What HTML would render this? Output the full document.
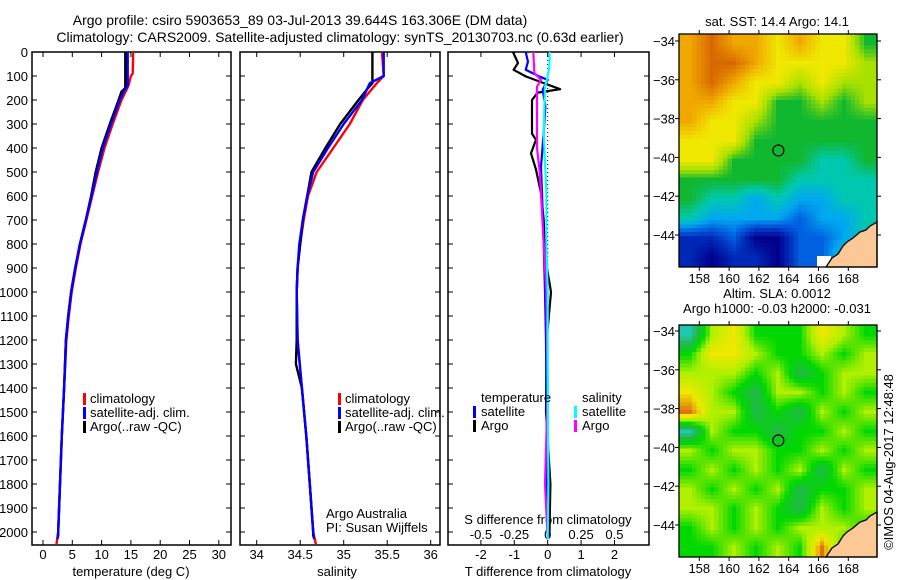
<!DOCTYPE html>
<html><head><meta charset="utf-8">
<style>
html,body{margin:0;padding:0;background:#fff;}
svg{display:block;font-family:"Liberation Sans",sans-serif;}
text{font-size:13px;fill:#000;}
</style></head>
<body>
<svg id="fig" width="900" height="580" viewBox="0 0 900 580" xmlns="http://www.w3.org/2000/svg">
<defs>
<clipPath id="clipTop"><rect x="679" y="34" width="198" height="233"/></clipPath>
<clipPath id="clipBot"><rect x="679" y="325" width="198" height="232"/></clipPath>
</defs>
<text x="300" y="25" text-anchor="middle" style="font-size:14px">Argo profile: csiro 5903653_89 03-Jul-2013 39.644S 163.306E (DM data)</text>
<text x="340" y="42" text-anchor="middle" style="font-size:14px">Climatology: CARS2009. Satellite-adjusted climatology: synTS_20130703.nc (0.63d earlier)</text>
<g id="layer"></g>
</svg>
<script>
// ---------- data ----------
var depthTicks = [0,100,200,300,400,500,600,700,800,900,1000,1100,1200,1300,1400,1500,1600,1700,1800,1900,2000];
var tempTicks = [0,5,10,15,20,25,30];
var salTicks = [34,34.5,35,35.5,36];
var salTickLabels = ["34","34.5","35","35.5","36"];
var tdiffTicks = [-2,-1,0,1,2];
var sdiffTicks = [-0.5,-0.25,0,0.25,0.5];
var sdiffTickLabels = ["-0.5","-0.25","0","0.25","0.5"];

var tClimDepth = [0,90,100,130,150,200,300,400,500,600,700,800,900,1000,1100,1200,1300,1400,1600,1800,2000,2050];
var tClim      = [15.4,15.3,15.0,14.7,14.4,13.4,11.9,10.5,9.4,8.4,7.4,6.4,5.6,4.9,4.4,4.0,3.8,3.6,3.2,2.9,2.6,2.3];
var tSatDepth  = [0,140,160,200,300,400,500,600,700,800,900,1000,1100,1200,1300,1400,1600,1800,2000,2030];
var tSat       = [14.45,14.45,13.9,13.1,11.6,10.2,9.2,8.3,7.3,6.3,5.5,4.8,4.3,3.9,3.75,3.6,3.2,2.9,2.6,2.5];
var tArgoDepth = [0,150,165,200,300,400,500,600,700,800,900,1000,1100,1200,1300,1400,1600,1800,2000,2020];
var tArgo      = [14.05,14.05,13.4,12.9,11.4,10.0,9.0,8.2,7.3,6.3,5.5,4.8,4.3,3.9,3.75,3.6,3.2,2.9,2.6,2.6];

var sClimDepth = [0,100,130,200,300,400,500,600,700,800,900,1000,1200,1400,1600,1800,2000,2050];
var sClim      = [35.44,35.46,35.38,35.22,35.07,34.88,34.69,34.59,34.54,34.5,34.47,34.46,34.47,34.52,34.57,34.61,34.65,34.68];
var sSatDepth  = [0,100,130,200,300,400,500,600,700,800,900,1000,1200,1400,1600,1800,2000,2030];
var sSat       = [35.46,35.46,35.3,35.21,35.0,34.82,34.65,34.58,34.53,34.49,34.47,34.46,34.47,34.52,34.57,34.61,34.65,34.66];
var sArgoDepth = [0,130,150,200,300,400,500,600,700,800,900,1000,1200,1300,1400,1600,1800,2000,2020];
var sArgo      = [35.33,35.33,35.28,35.17,34.96,34.79,34.63,34.58,34.53,34.5,34.47,34.46,34.46,34.45,34.52,34.57,34.61,34.65,34.65];

var dTSatDepth  = [0,40,74,102,116,158,227,338,477,588,800,1000,1200,1500,1800,2030];
var dTSat       = [-0.66,-0.59,-0.66,-0.25,0.0,-0.15,-0.07,-0.12,-0.2,-0.17,-0.12,-0.08,-0.05,-0.03,-0.02,0.0];
var dTArgoDepth = [0,46,74,102,123,155,169,200,340,366,422,490,588,700,850,1000,1200,1500,1800,2020];
var dTArgo      = [-1.04,-0.89,-1.02,-0.65,-0.25,0.37,-0.3,-0.47,-0.47,-0.35,-0.5,-0.35,-0.2,-0.12,-0.08,0.1,-0.03,-0.05,0.08,0.05];
var dSSatDepth  = [0,60,102,144,338,588,800,1000,1400,1800,2030];
var dSSat       = [0.015,0.012,0.0,-0.02,-0.03,-0.01,-0.01,0.0,0.0,0.005,0.0];
var dSArgoDepth = [0,88,116,144,250,400,500,588,800,1000,1400,1600,1800,2030];
var dSArgo      = [-0.108,-0.1,-0.05,-0.08,-0.08,-0.08,-0.06,-0.05,-0.03,-0.01,0.0,-0.01,-0.02,0.0];

var lonTicks = [158,160,162,164,166,168];
var latTicks = [-34,-36,-38,-40,-42,-44];
var argoLon = 163.306, argoLat = -39.644;
var sstColors = ["#00008c","#0028b8","#0060e0","#00a8f0","#00c8b0","#10b830","#a8e000","#f0e800","#f0a800","#d86800"];
var slaColors = ["#00008c","#0028b8","#0060e0","#00a8f0","#20c8b0","#20b848","#00d800","#b0f000","#f0e800","#e07010"];
var sstGrid = [
 [8,9,8,8,7,8,7,7,5],
 [8,9,9,8,7,7,7,7,6],
 [8,9,8,7,7,6,7,6,6],
 [8,8,7,7,5,5,6,5,6],
 [8,7,7,6,5,5,5,5,5],
 [7,7,7,5,5,5,5,5,5],
 [7,7,5,5,5,5,4,4,5],
 [5,5,5,5,5,4,4,4,4],
 [5,4,4,3,4,3,3,4,4],
 [4,3,3,3,3,2,3,3,4],
 [1,1,2,0,0,2,2,3,4],
 [1,0,1,1,0,2,2,4,4]];
var slaGrid = [
 [4,7,8,6,6,6,8,7,6],
 [6,8,8,7,6,6,7,6,7],
 [7,7,7,6,7,5,6,7,7],
 [8,7,6,5,7,7,6,7,6],
 [9,7,7,5,6,5,7,6,7],
 [4,7,6,6,5,6,6,7,6],
 [7,6,7,7,6,6,7,6,7],
 [6,7,6,7,6,7,5,7,6],
 [7,6,7,6,7,5,6,6,7],
 [7,7,6,7,6,5,7,6,7],
 [6,7,6,7,6,7,7,7,6],
 [6,6,7,6,7,6,9,6,6]];

// ---------- helpers ----------
var NS = "http://www.w3.org/2000/svg";
var layer = document.getElementById('layer');
function mk(tag, attrs, parent){ var e=document.createElementNS(NS,tag); for(var k in attrs) e.setAttribute(k,attrs[k]); (parent||layer).appendChild(e); return e; }
function txt(x,y,s,anchor,parent){ var t=mk('text',{x:x,y:y,'text-anchor':anchor||'start'},parent); t.textContent=s; return t; }

var yTop=52, yPx=0.24, plotTop=52, plotBot=545;
function yD(d){ return yTop + d*yPx; }

var panels = [
 {name:'temperature', x0:32, x1:231, sx:function(v){return 43+v*5.86;}},
 {name:'salinity', x0:240, x1:440, sx:function(v){return 256.7+(v-34)*87;}},
 {name:'difference', x0:448, x1:649, sx:function(v){return 547.7+v*33.4;}, sx2:function(v){return 547.7+v*133.5;}}
];

function frame(p){
  var g = mk('g',{});
  
  
  var r = mk('rect',{x:p.x0,y:plotTop,width:p.x1-p.x0,height:plotBot-plotTop,fill:'none',stroke:'#000','stroke-width':1.5},g);
  
  
  depthTicks.forEach(function(d){
    mk('line',{x1:p.x0,x2:p.x0+5,y1:yD(d),y2:yD(d),stroke:'#000'},g);
    mk('line',{x1:p.x1,x2:p.x1-5,y1:yD(d),y2:yD(d),stroke:'#000'},g);
  });
  return g;
}
function line(xs, ds, sx, color, name, w){
  var pts = xs.map(function(v,i){ return sx(v).toFixed(1)+','+yD(ds[i]).toFixed(1); }).join(' ');
  var l = mk('polyline',{points:pts,fill:'none',stroke:color,'stroke-width':w||2.2,'stroke-linejoin':'round'});
  
  
  return l;
}

// panel 1
var g1 = frame(panels[0]);
depthTicks.forEach(function(d){
  var t = txt(28, yD(d)+5, String(d), 'end');
  
  
});
tempTicks.forEach(function(v){
  var x=panels[0].sx(v);
  mk('line',{x1:x,x2:x,y1:plotBot,y2:plotBot-5,stroke:'#000'},g1);
  mk('line',{x1:x,x2:x,y1:plotTop,y2:plotTop+5,stroke:'#000'},g1);
  var t = txt(x, 559, String(v), 'middle');
  
  
});
var xt1 = txt(131, 576, 'temperature (deg C)', 'middle');


line(tClim, tClimDepth, panels[0].sx, '#ff0000', 'temperature-climatology-line', 2.4);
line(tArgo, tArgoDepth, panels[0].sx, '#000000', 'temperature-argo-line', 2.4);
line(tSat, tSatDepth, panels[0].sx, '#0000ff', 'temperature-satellite-line', 2.4);

// panel 2
var g2 = frame(panels[1]);
salTicks.forEach(function(v,i){
  var x=panels[1].sx(v);
  mk('line',{x1:x,x2:x,y1:plotBot,y2:plotBot-5,stroke:'#000'},g2);
  mk('line',{x1:x,x2:x,y1:plotTop,y2:plotTop+5,stroke:'#000'},g2);
  var t = txt(x, 559, salTickLabels[i], 'middle');
  
  
});
var xt2 = txt(337, 576, 'salinity', 'middle');


line(sClim, sClimDepth, panels[1].sx, '#ff0000', 'salinity-climatology-line', 2.4);
line(sArgo, sArgoDepth, panels[1].sx, '#000000', 'salinity-argo-line', 2.4);
line(sSat, sSatDepth, panels[1].sx, '#0000ff', 'salinity-satellite-line', 2.4);
var aa = txt(326, 518, 'Argo Australia');


var pi = txt(326, 532, 'PI: Susan Wijffels');



// legends panels 1,2
[[83,'temperature'],[338,'salinity']].forEach(function(L){
  var items=[['#ff0000','climatology'],['#0000ff','satellite-adj. clim.'],['#000000','Argo(..raw -QC)']];
  items.forEach(function(it,i){
    var y=398+i*14;
    var m = mk('rect',{x:L[0],y:y-5,width:3,height:12,fill:it[0]});
    
    
    var t = txt(L[0]+7, y+5, it[1]);
    
    
  });
});

// panel 3
var g3 = frame(panels[2]);
tdiffTicks.forEach(function(v){
  var x=panels[2].sx(v);
  mk('line',{x1:x,x2:x,y1:plotBot,y2:plotBot-5,stroke:'#000'},g3);
  var t = txt(x, 559, String(v), 'middle');
  
  
});
sdiffTicks.forEach(function(v,i){
  var x=panels[2].sx2(v);
  mk('line',{x1:x,x2:x,y1:plotTop,y2:plotTop+5,stroke:'#000'},g3);
  var t = txt(x, 539, sdiffTickLabels[i], 'middle');
  
  
});
var zl = mk('line',{x1:panels[2].sx(0),x2:panels[2].sx(0),y1:plotTop,y2:plotBot,stroke:'#000','stroke-dasharray':'1,3'});


var st = txt(548, 524, 'S difference from climatology', 'middle');


var tt = txt(548, 576, 'T difference from climatology', 'middle');


line(dTArgo, dTArgoDepth, panels[2].sx, '#000000', 'tdiff-argo-line', 2.2);
line(dTSat, dTSatDepth, panels[2].sx, '#0000ff', 'tdiff-satellite-line', 2.2);
line(dSArgo, dSArgoDepth, panels[2].sx2, '#ff00ff', 'sdiff-argo-line', 2.2);
line(dSSat, dSSatDepth, panels[2].sx2, '#00ffff', 'sdiff-satellite-line', 2.2);
var lt = txt(481, 402, 'temperature');  
var ls = txt(582, 402, 'salinity');  
[[473,'#0000ff','satellite',416],[473,'#000000','Argo',430],[574,'#00ffff','satellite',416],[574,'#ff00ff','Argo',430]].forEach(function(L){
  var m = mk('rect',{x:L[0],y:L[3]-10,width:3,height:12,fill:L[1]});
  
  
  var t = txt(L[0]+8, L[3], L[2]);
  
  
});

// ---------- maps ----------
var mapX0=679, mapX1=877;
function mx(lon){ return 699.3 + (lon-158)*14.9; }
function hex(c){ return [parseInt(c.substr(1,2),16),parseInt(c.substr(3,2),16),parseInt(c.substr(5,2),16)]; }
function cmap(colors, v){
  v=Math.max(0,Math.min(colors.length-1,v));
  var i=Math.min(colors.length-2,Math.floor(v)), f=v-i;
  var a=hex(colors[i]), b=hex(colors[i+1]);
  return 'rgb('+[0,1,2].map(function(k){return Math.round(a[k]+(b[k]-a[k])*f);}).join(',')+')';
}
function sample(grid, gx, gy){
  var rows=grid.length, cols=grid[0].length;
  gx=Math.max(0,Math.min(cols-1,gx)); gy=Math.max(0,Math.min(rows-1,gy));
  var x0=Math.min(cols-2,Math.floor(gx)), y0=Math.min(rows-2,Math.floor(gy));
  var fx=gx-x0, fy=gy-y0;
  var a=grid[y0][x0], b=grid[y0][x0+1], c=grid[y0+1][x0], d=grid[y0+1][x0+1];
  return a*(1-fx)*(1-fy)+b*fx*(1-fy)+c*(1-fx)*fy+d*fx*fy;
}
function drawMap(top, bottom, y34, grid, colors, clip, name, title1, title2){
  function my(lat){ return y34 + (-34-lat)*19.4; }
  var g = mk('g',{});
  
  
  var cg = mk('g',{'clip-path':'url(#'+clip+')','shape-rendering':'crispEdges'},g);
  var rows=grid.length, cols=grid[0].length;
  var sub=5, nx=cols*sub, ny=rows*sub;
  var cw=(mapX1-mapX0)/nx, ch=(bottom-top)/ny;
  for(var r=0;r<ny;r++){ for(var c=0;c<nx;c++){
    var gx=(c+0.5)/sub-0.5, gy=(r+0.5)/sub-0.5;
    var cell = mk('rect',{x:(mapX0+c*cw).toFixed(2),y:(top+r*ch).toFixed(2),width:(cw+0.6).toFixed(2),height:(ch+0.6).toFixed(2),fill:cmap(colors, sample(grid,gx,gy))},cg);
    
    
  }}
  var off = bottom-267;
  if(name==='sst-map'){
    var wb = mk('rect',{x:817,y:256,width:14,height:12,fill:'#fff'},cg);
     
  }
  var land = mk('polygon',{points:'826,'+(267+off)+' 832,'+(258+off)+' 838,'+(254+off)+' 843,'+(246+off)+' 847,'+(242+off)+' 853,'+(238+off)+' 860,'+(232+off)+' 866,'+(230+off)+' 870,'+(226+off)+' 877,'+(222+off)+' 877,'+(267+off),fill:'#fcc896',stroke:'#000','stroke-width':1.3},g);
  
  
  var fr = mk('rect',{x:mapX0,y:top,width:mapX1-mapX0,height:bottom-top,fill:'none',stroke:'#000','stroke-width':1.3},g);
  
  
  lonTicks.forEach(function(l){
    var x=mx(l);
    mk('line',{x1:x,x2:x,y1:top,y2:top-4,stroke:'#000'},g);
    mk('line',{x1:x,x2:x,y1:bottom,y2:bottom+4,stroke:'#000'},g);
    var t = txt(x, bottom+16, String(l), 'middle', g);
    
    
  });
  latTicks.forEach(function(l){
    var y=my(l);
    mk('line',{x1:mapX0,x2:mapX0-4,y1:y,y2:y,stroke:'#000'},g);
    mk('line',{x1:mapX1,x2:mapX1+4,y1:y,y2:y,stroke:'#000'},g);
    var t = txt(675, y+5, String(l).replace('-','\u2212'), 'end', g);
    
    
  });
  var c = mk('circle',{cx:mx(argoLon),cy:my(argoLat),r:5.5,fill:'none',stroke:'#000','stroke-width':1.2},g);
  
  
  var t1 = txt(777, title2? top-27: top-8, title1, 'middle', g);
  
  
  if(title2){
    var t2 = txt(777, top-12, title2, 'middle', g);
    
    
  }
}
drawMap(34, 267, 41, sstGrid, sstColors, 'clipTop', 'sst-map', 'sat. SST: 14.4 Argo: 14.1');
drawMap(325, 557, 331, slaGrid, slaColors, 'clipBot', 'sla-map', 'Altim. SLA: 0.0012', 'Argo h1000: -0.03 h2000: -0.031');

var cr = txt(0, 0, '\u00a9IMOS 04-Aug-2017 12:48:48', 'middle');
cr.setAttribute('transform', 'translate(893,462) rotate(-90)');


</script>
</body></html>
